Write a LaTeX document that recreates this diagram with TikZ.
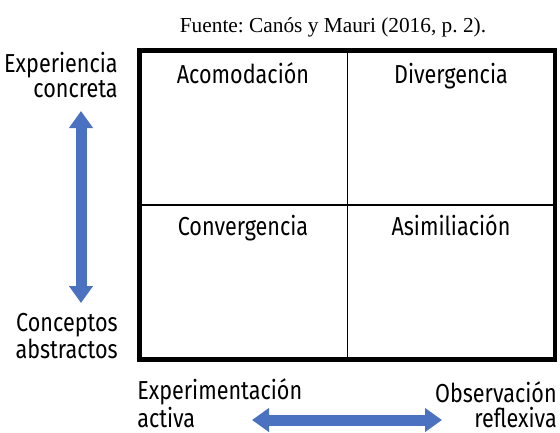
\documentclass[tikz,border=0pt]{standalone}
\usepackage{fontspec}
\setmainfont{Liberation Serif}
\newfontfamily\cellfont[FakeStretch=0.83]{Fira Sans}
\usetikzlibrary{arrows.meta,positioning}
\definecolor{ArrowBlue}{RGB}{74,114,192}
\frenchspacing

\begin{document}
\begin{tikzpicture}[x=0.75pt,y=-0.75pt,
    cell/.style={font=\cellfont\fontsize{19.5}{18.75}\selectfont,inner sep=0pt},
    bigarrow/.style={ArrowBlue,line width=8.25pt,{Triangle[width=17.25pt,length=12.75pt]}-{Triangle[width=17.25pt,length=12.75pt]}}]
          \useasboundingbox (0,0) rectangle (560,432);
          \node[anchor=base,inner sep=0pt,font=\fontsize{16}{18}\selectfont] (src) at (333,32) {Fuente: Canós y Mauri (2016, p. 2).};
          % the four quadrants
          \node[draw,line width=3.4pt,minimum width=311.6pt,minimum height=231.75pt] (grid) at (347.25,205) {};
          \draw[line width=1.1pt] (grid.north) -- (grid.south);
          \draw[line width=1.1pt] (grid.west) -- (grid.east);
          \node[cell,anchor=base] (acom) at (243,83) {Acomodación};
          \node[cell,anchor=base] (dive) at (451,83) {Divergencia};
          \node[cell,anchor=base] (conv) at (243,235) {Convergencia};
          \node[cell,anchor=base] (asim) at (451,235) {Asimiliación};
          % axes
          \node[cell,anchor=base east,align=right] (conc) at (118,97) {Experiencia\\concreta};
          \node[cell,anchor=base east,align=right] (abst) at (118,358) {Conceptos\\abstractos};
          \node[cell,anchor=base west,align=left] (acti) at (137,427) {Experimentación\\activa};
          \node[cell,anchor=base east,align=right] (refl) at (557,427) {Observación\\reflexiva};
          \coordinate (vtop) at (81,111);
          \coordinate (vbot) at (81,303);
          \coordinate (hleft) at (252,420);
          \coordinate (hright) at (442,420);
          \draw[bigarrow] (vtop) -- (vbot);
          \draw[bigarrow] (hleft) -- (hright);
        \end{tikzpicture}
\end{document}
